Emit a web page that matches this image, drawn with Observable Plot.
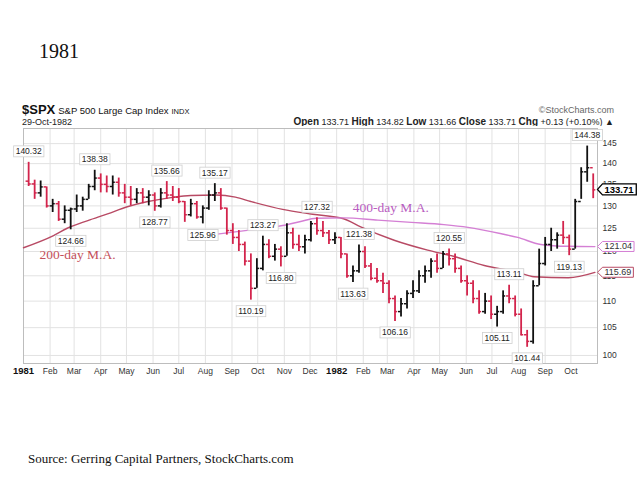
<!DOCTYPE html>
<html>
<head>
<meta charset="utf-8">
<script src="https://cdn.jsdelivr.net/npm/d3@7"></script>
<script src="https://cdn.jsdelivr.net/npm/@observablehq/plot@0.6"></script>
<style>
  body { margin: 0; background: #fff; }
  #page { position: relative; width: 640px; height: 480px; overflow: hidden; background: #fff; }
  #chart { position: absolute; left: 0; top: 126px; }
  #chart svg { overflow: visible; }
</style>
</head>
<body>
<div id="page">
  <svg width="640" height="480" style="position:absolute;left:0;top:0" font-family="Liberation Sans, Arial, sans-serif">
    <text x="39" y="58" font-family="Liberation Serif, serif" font-size="20" fill="#111">1981</text>
    <text x="22" y="114" fill="#111"><tspan font-weight="bold" font-size="13">$SPX</tspan><tspan font-size="9.5" dx="3">S&amp;P 500 Large Cap Index</tspan><tspan font-size="7.5" dx="3">INDX</tspan></text>
    <text x="22" y="125" font-size="9" fill="#222">29-Oct-1982</text>
    <text x="614" y="113" text-anchor="end" font-size="9" fill="#666">©StockCharts.com</text>
    <text x="614" y="125" text-anchor="end" font-size="9" fill="#222"><tspan font-weight="bold" font-size="10">Open</tspan> 133.71  <tspan font-weight="bold" font-size="10">High</tspan> 134.82  <tspan font-weight="bold" font-size="10">Low</tspan> 131.66  <tspan font-weight="bold" font-size="10">Close</tspan> 133.71  <tspan font-weight="bold" font-size="10">Chg</tspan> +0.13 (+0.10%) ▲</text>
    <text x="28" y="463" font-family="Liberation Serif, serif" font-size="13" fill="#111">Source: Gerring Capital Partners, StockCharts.com</text>
  </svg>
  <div id="chart"></div>
</div>
<script>
// weekly bars (mid-week date)
const weekDates = [
  "1981-01-07","1981-01-14","1981-01-21","1981-01-28",
  "1981-02-04","1981-02-11","1981-02-18","1981-02-25",
  "1981-03-04","1981-03-11","1981-03-18","1981-03-25",
  "1981-04-01","1981-04-08","1981-04-15","1981-04-22","1981-04-29",
  "1981-05-06","1981-05-13","1981-05-20","1981-05-27",
  "1981-06-03","1981-06-10","1981-06-17","1981-06-24",
  "1981-07-01","1981-07-08","1981-07-15","1981-07-22","1981-07-29",
  "1981-08-05","1981-08-12","1981-08-19","1981-08-26",
  "1981-09-02","1981-09-09","1981-09-16","1981-09-23","1981-09-30",
  "1981-10-07","1981-10-14","1981-10-21","1981-10-28",
  "1981-11-04","1981-11-11","1981-11-18","1981-11-25",
  "1981-12-02","1981-12-09","1981-12-16","1981-12-23","1981-12-30",
  "1982-01-06","1982-01-13","1982-01-20","1982-01-27",
  "1982-02-03","1982-02-10","1982-02-17","1982-02-24",
  "1982-03-03","1982-03-10","1982-03-17","1982-03-24","1982-03-31",
  "1982-04-07","1982-04-14","1982-04-21","1982-04-28",
  "1982-05-05","1982-05-12","1982-05-19","1982-05-26",
  "1982-06-02","1982-06-09","1982-06-16","1982-06-23","1982-06-30",
  "1982-07-07","1982-07-14","1982-07-21","1982-07-28",
  "1982-08-04","1982-08-11","1982-08-18","1982-08-25",
  "1982-09-01","1982-09-08","1982-09-15","1982-09-22","1982-09-29",
  "1982-10-06","1982-10-13","1982-10-20","1982-10-27"
];
const weekHigh = [
  140.32,136.0,135.8,134.4, 131.5,131.0,130.0,129.5, 132.5,132.0,135.0,138.38,
  137.5,137.0,137.0,136.5,135.0, 134.5,134.0,134.0,133.5, 133.0,134.0,135.66,134.5,
  134.0,131.0,131.5,131.0,130.0, 133.5,135.17,134.0,129.5, 126.0,124.5,122.0,119.5,118.5,
  123.27,122.5,121.5,121.0, 126.0,125.0,123.5,123.5, 126.5,127.32,126.5,124.5,124.0,
  123.0,119.5,117.0,121.38, 121.0,117.5,116.5,115.5, 114.0,111.0,110.5,112.0,114.0,
  116.0,117.0,118.5,119.5, 120.0,120.55,119.5,117.0, 115.0,114.0,112.0,111.5,111.0,
  109.0,112.0,113.11,111.0, 108.5,104.5,114.0,120.5, 123.0,125.0,124.0,126.5,123.5,
  131.5,139.0,144.38,137.5
];
const weekLow = [
  134.5,131.5,132.0,129.5, 128.5,126.5,126.0,124.66, 128.5,128.8,131.5,133.5,
  133.0,133.0,132.5,132.0,130.5, 130.0,130.5,130.5,130.0, 128.77,129.5,131.5,131.0,
  130.5,126.3,127.5,127.0,125.96, 129.0,131.0,129.0,123.5, 121.5,120.0,117.0,110.19,112.5,
  116.0,118.5,118.0,116.8, 119.0,120.5,120.0,119.5, 122.0,123.5,123.0,121.5,121.5,
  118.5,114.5,113.63,115.5, 116.5,114.0,113.5,111.5, 109.5,106.16,107.0,108.5,110.5,
  111.5,113.5,114.5,115.5, 116.5,117.0,115.5,113.5, 111.0,109.5,107.5,107.5,106.5,
  105.11,107.5,109.5,107.0, 103.5,101.44,102.0,113.0, 117.0,120.0,120.5,121.5,119.13,
  120.5,131.5,135.5,131.66
];
const weekClose = [
  135.1,133.0,134.4,130.0, 130.5,127.0,129.0,129.3, 130.0,131.5,134.5,136.5,
  135.0,134.5,135.5,133.0,132.0, 131.5,133.0,132.0,132.5, 130.0,133.0,132.5,132.0,
  131.0,128.0,130.5,127.5,129.5, 132.5,133.0,129.5,124.5, 123.0,121.5,118.0,112.5,116.5,
  121.5,119.0,120.5,119.0, 124.0,121.5,121.0,122.5, 126.0,124.5,124.0,122.5,123.0,
  119.5,115.0,116.0,120.0, 117.0,114.5,114.0,113.5, 110.5,108.0,109.5,111.5,112.0,
  115.0,116.0,118.0,116.5, 119.5,118.5,116.5,114.0, 113.5,110.5,108.0,110.0,107.5,
  108.0,111.0,110.5,107.5, 103.7,102.5,113.0,117.5, 121.5,122.5,123.5,123.0,120.5,
  131.0,138.0,139.0,133.71
];
const firstOpen = 135.76;

// moving averages
const ma200Dates = ["1981-01-01","1981-02-05","1981-02-21","1981-03-17","1981-04-09","1981-05-02",
  "1981-05-26","1981-06-22","1981-07-15","1981-08-13","1981-09-05","1981-09-23","1981-10-30",
  "1981-12-04","1982-01-09","1982-01-29","1982-03-09","1982-04-17","1982-05-17","1982-06-22",
  "1982-07-31","1982-08-19","1982-09-28","1982-10-29"];
const ma200Values = [120.8,123.4,125.0,126.7,128.2,129.8,131.0,131.9,132.4,132.5,132.0,131.0,129.2,
  128.1,127.1,125.3,122.4,120.3,119.0,117.1,115.7,114.8,114.6,115.69];
const ma400Dates = ["1981-08-10","1981-09-21","1981-10-30","1981-11-20","1981-12-08","1982-01-09",
  "1982-02-18","1982-03-29","1982-05-06","1982-06-03","1982-07-12","1982-07-31","1982-08-27",
  "1982-09-28","1982-10-29"];
const ma400Values = [123.6,124.6,125.6,126.5,127.2,127.3,126.8,126.3,125.8,125.2,123.8,123.0,121.5,121.1,121.04];

// labelled highs and lows
const peakDates = ["1981-01-07","1981-02-25","1981-03-25","1981-06-03","1981-06-17","1981-07-29",
  "1981-08-12","1981-09-23","1981-10-07","1981-10-28","1981-12-09","1982-01-20","1982-01-27",
  "1982-03-10","1982-05-12","1982-07-07","1982-07-21","1982-08-11","1982-09-29","1982-10-20"];
const peakValues = [140.32,124.66,138.38,128.77,135.66,125.96,135.17,110.19,123.27,116.80,127.32,
  113.63,121.38,106.16,120.55,105.11,113.11,101.44,119.13,144.38];
const peakSide = ["up","down","up","down","up","down","up","down","up","down","up","down","up",
  "down","up","down","up","down","down","up"];

const maLabelText = ["200-day M.A.", "400-day M.A."];
const maLabelDates = ["1981-03-05", "1982-03-05"];
const maLabelValues = [119.4, 129.7];

const lastValues = [133.71, 121.04, 115.69];

const monthTicks = ["1981-01-01","1981-02-01","1981-03-01","1981-04-01","1981-05-01","1981-06-01",
  "1981-07-01","1981-08-01","1981-09-01","1981-10-01","1981-11-01","1981-12-01","1982-01-01",
  "1982-02-01","1982-03-01","1982-04-01","1982-05-01","1982-06-01","1982-07-01","1982-08-01",
  "1982-09-01","1982-10-01"];
const monthLabels = ["1981","Feb","Mar","Apr","May","Jun","Jul","Aug","Sep","Oct","Nov","Dec",
  "1982","Feb","Mar","Apr","May","Jun","Jul","Aug","Sep","Oct"];
const yTicks = [100,105,110,115,120,125,130,135,140,145];

const upColor = "#111", downColor = "#d3244c";
const ma200Color = "#b84a64", ma400Color = "#d47fd4";

const bars = weekDates.map((d, i) => ({
  date: new Date(d), high: weekHigh[i], low: weekLow[i], close: weekClose[i],
  open: i ? weekClose[i - 1] : firstOpen
}));
const barColor = d => d.close < d.open ? downColor : upColor;
const ma200 = ma200Dates.map((d, i) => ({date: new Date(d), value: ma200Values[i]}));
const ma400 = ma400Dates.map((d, i) => ({date: new Date(d), value: ma400Values[i]}));
const peaks = peakDates.map((d, i) => ({date: new Date(d), value: peakValues[i], side: peakSide[i]}));
const maLabels = maLabelText.map((t, i) => ({text: t, date: new Date(maLabelDates[i]), value: maLabelValues[i]}));
const months = monthTicks.map((d, i) => ({date: new Date(d), label: monthLabels[i], year: /^\d+$/.test(monthLabels[i])}));

const chart = Plot.plot({
  width: 640,
  height: 259,
  marginTop: 2,
  marginBottom: 22,
  marginLeft: 23,
  marginRight: 43,
  style: {fontFamily: "Liberation Sans, Arial, sans-serif", background: "white", color: "#333"},
  x: {type: "utc", domain: [new Date("1981-01-01"), new Date("1982-11-01")], axis: null},
  y: {type: "log", domain: [98.6, 148.9], axis: null},
  marks: [
    Plot.ruleX(months, {x: "date", stroke: "#e2e2e2"}),
    Plot.ruleY(yTicks, {y: d => d, stroke: "#e2e2e2"}),
    Plot.frame({stroke: "#bdbdbd"}),
    Plot.line(ma200, {x: "date", y: "value", stroke: ma200Color, strokeWidth: 1.4, curve: "monotone-x"}),
    Plot.line(ma400, {x: "date", y: "value", stroke: ma400Color, strokeWidth: 1.4, curve: "monotone-x"}),
    Plot.ruleX(bars, {x: "date", y1: "low", y2: "high", stroke: barColor, strokeWidth: 1.8}),
    Plot.ruleY(bars, {y: "open", x1: d => d3.utcDay.offset(d.date, -3), x2: "date", stroke: barColor, strokeWidth: 1.5}),
    Plot.ruleY(bars, {y: "close", x1: "date", x2: d => d3.utcDay.offset(d.date, 3), stroke: barColor, strokeWidth: 1.5}),
    Plot.text(maLabels, {x: "date", y: "value", text: "text", fill: (d, i) => i ? "#b85cc0" : "#c4505a",
      fontFamily: "Liberation Serif, serif", fontSize: 13.5}),
    Plot.text(peaks.filter(d => d.side === "up"), {x: "date", y: "value", text: d => d.value.toFixed(2),
      dy: -8, lineAnchor: "bottom", fontSize: 8.5, fill: "#222", ariaDescription: "peak-labels"}),
    Plot.text(peaks.filter(d => d.side === "down"), {x: "date", y: "value", text: d => d.value.toFixed(2),
      dy: 8, lineAnchor: "top", fontSize: 8.5, fill: "#222", ariaDescription: "peak-labels"}),
    Plot.text(yTicks, {y: d => d, text: d => d, frameAnchor: "right", dx: 5, textAnchor: "start", fontSize: 8.5, fill: "#333"}),
    Plot.text(months.filter(d => !d.year), {x: "date", text: "label", frameAnchor: "bottom", dy: 10,
      fontSize: 8.5, fill: "#333", letterSpacing: "0.4px"}),
    Plot.text(months.filter(d => d.year), {x: "date", text: "label", frameAnchor: "bottom", dy: 10,
      fontSize: 9.5, fontWeight: "bold", fill: "#111"}),
    Plot.text(lastValues.slice(0, 1), {y: d => d, text: d => d.toFixed(2), frameAnchor: "right", dx: 7,
      textAnchor: "start", fontSize: 9.5, fontWeight: "bold", fill: "#000", ariaDescription: "last-values"}),
    Plot.text(lastValues.slice(1), {y: d => d, text: d => d.toFixed(2), frameAnchor: "right", dx: 7,
      textAnchor: "start", fontSize: 9, fill: "#333", ariaDescription: "last-values"})
  ]
});

document.getElementById("chart").append(chart);

// boxes behind value labels
const svgNS = "http://www.w3.org/2000/svg";
chart.querySelectorAll('g[aria-description="peak-labels"] text').forEach(t => {
  const b = t.getBBox();
  const r = document.createElementNS(svgNS, "rect");
  r.setAttribute("x", b.x - 2); r.setAttribute("y", b.y - 0.5);
  r.setAttribute("width", b.width + 4); r.setAttribute("height", b.height + 1);
  r.setAttribute("fill", "white"); r.setAttribute("stroke", "#cfcfcf"); r.setAttribute("stroke-width", 0.8);
  if (t.getAttribute("transform")) r.setAttribute("transform", t.getAttribute("transform"));
  t.parentNode.insertBefore(r, t);
});
const boxColors = ["#000", ma400Color, ma200Color];
chart.querySelectorAll('g[aria-description="last-values"] text').forEach((t, i) => {
  const b = t.getBBox();
  const p = document.createElementNS(svgNS, "path");
  const x0 = b.x - 2, x1 = b.x + b.width + 2, y0 = b.y, y1 = b.y + b.height, ym = (y0 + y1) / 2;
  p.setAttribute("d", `M${x0 - 5},${ym}L${x0},${y0}L${x1},${y0}L${x1},${y1}L${x0},${y1}Z`);
  p.setAttribute("fill", "white"); p.setAttribute("stroke", boxColors[i]); p.setAttribute("stroke-width", i ? 1 : 1.3);
  if (t.getAttribute("transform")) p.setAttribute("transform", t.getAttribute("transform"));
  t.parentNode.insertBefore(p, t);
});
</script>
</body>
</html>
